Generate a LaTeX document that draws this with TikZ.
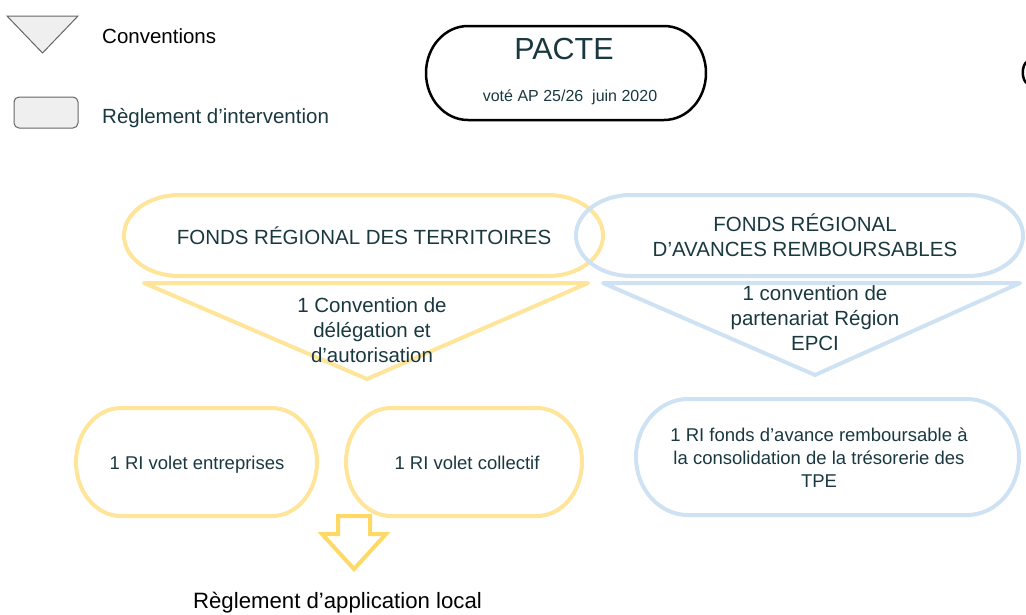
\documentclass[tikz,border=0pt]{standalone}
\usepackage{fontspec}
\setmainfont{Liberation Sans}
\definecolor{txt}{RGB}{26,56,64}
\definecolor{yel}{RGB}{255,229,153}
\definecolor{blu}{RGB}{207,226,243}
\definecolor{arr}{RGB}{255,217,102}
\definecolor{lgfill}{RGB}{239,239,239}
\definecolor{lgdraw}{RGB}{102,102,102}
\newcommand{\capsule}[7][]{%
  \draw[#1] (#2+#6,#3) -- (#4-#6,#3) arc[start angle=-90,end angle=0,x radius=#6,y radius=#7]
    -- (#4,#5-#7) arc[start angle=0,end angle=90,x radius=#6,y radius=#7]
    -- (#2+#6,#5) arc[start angle=90,end angle=180,x radius=#6,y radius=#7]
    -- (#2,#3+#7) arc[start angle=180,end angle=270,x radius=#6,y radius=#7] -- cycle;}
\tikzset{
  yline/.style={draw=yel,line width=4pt,line join=round},
  bline/.style={draw=blu,line width=4pt,line join=round},
  lbl/.style={text=txt,inner sep=0pt,align=center},
  f20/.style={font=\fontsize{20.5}{25}\selectfont},
  f18/.style={font=\fontsize{18.5}{23}\selectfont},
}
\begin{document}
\begin{tikzpicture}[x=1pt,y=-1pt]
\useasboundingbox (0,0) rectangle (1026,614);
% legend
\draw[fill=lgfill,draw=lgdraw,line width=1pt] (7,16) -- (78,16) -- (42.5,53) -- cycle;
\draw[fill=lgfill,draw=lgdraw,line width=1pt,rounded corners=5pt] (14,97) rectangle (78,128);
\node[lbl,f20,text={RGB:red,34;green,34;blue,34},anchor=base west] (conv) at (102,43) {Conventions};
\node[lbl,f20,anchor=base west] (regint) at (102,123) {Règlement d’intervention};
% PACTE
\capsule[draw=black,line width=2.5pt]{426}{26}{706}{120}{42}{47}
\node[lbl,font=\fontsize{30.5}{36}\selectfont,anchor=base] (pacte) at (564,59) {PACTE};
\node[lbl,font=\fontsize{16}{20}\selectfont,anchor=base] (vote) at (570,101) {voté AP 25/26\ \ juin 2020};
% partial shape at right edge
\draw[black,line width=2.5pt] (1028,61) .. controls (1021,64) and (1021,81) .. (1028,84);
% top capsules
\capsule[yline]{124}{195}{603}{276}{55}{40.5}
\capsule[bline]{576}{195}{1023}{276}{55}{40.5}
\node[lbl,f20,anchor=base] (frt) at (364,244) {FONDS RÉGIONAL DES TERRITOIRES};
\node[lbl,f20] (fra) at (805,235) {FONDS RÉGIONAL\\D’AVANCES REMBOURSABLES};
% triangles
\draw[yline] (144,283) -- (588,283) -- (367,379) -- cycle;
\draw[bline] (603,283) -- (1020,283) -- (815,375) -- cycle;
\node[lbl,f20] (cv1) at (372,330) {1 Convention de\\délégation et\\d’autorisation};
\node[lbl,f20] (cv2) at (815,318) {1 convention de\\partenariat Région\\EPCI};
% bottom boxes
\capsule[yline]{76}{408}{317}{516}{45}{54}
\capsule[yline]{346}{408}{582}{516}{45}{54}
\capsule[bline]{636}{399}{1019}{515}{52}{58}
\node[lbl,f18,anchor=base] (ri1) at (197,469) {1 RI volet entreprises};
\node[lbl,f18,anchor=base] (ri2) at (467,469) {1 RI volet collectif};
\node[lbl,f18] (ri3) at (819,458) {1 RI fonds d’avance remboursable à\\la consolidation de la trésorerie des\\TPE};
% block arrow
\draw[draw=arr,line width=4pt,line join=miter] (338,516) -- (370,516) -- (370,534) -- (386,534) -- (354,569) -- (322,534) -- (338,534) -- cycle;
\node[lbl,text={RGB:red,34;green,34;blue,34},font=\fontsize{22.2}{26}\selectfont,anchor=base] (ral) at (337.5,608.5) {Règlement d’application local};
\end{tikzpicture}
\end{document}
